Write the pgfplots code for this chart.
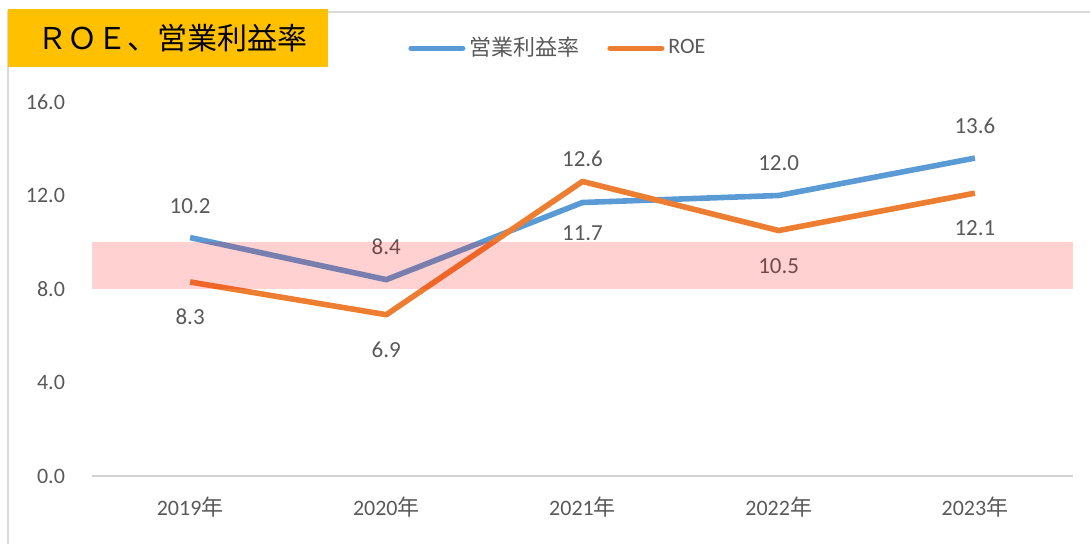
\documentclass[border=0pt]{standalone}
\usepackage{pgfplots}
\pgfplotsset{compat=1.18}
\usepackage{fontspec}
\setmainfont{Carlito}
\newfontfamily\cjk{Noto Sans CJK JP}
\definecolor{tgray}{HTML}{595959}
\definecolor{cblue}{HTML}{5B9BD5}
\definecolor{corange}{HTML}{ED7D31}
\definecolor{cgold}{HTML}{FFC000}
\begin{document}
\begin{tikzpicture}
\path[use as bounding box] (0,0) rectangle (545pt,272pt);
\draw[gray!30, line width=0.8pt] (4pt,-5pt) -- (4pt,266pt) -- (550pt,266pt);
\begin{axis}[
  at={(46pt,34pt)}, anchor=south west,
  scale only axis, width=490.5pt, height=187pt,
  xmin=-0.5, xmax=4.5, ymin=0, ymax=16,
  axis x line=bottom, axis y line=left,
  x axis line style={-, draw=gray!35, line width=0.8pt},
  y axis line style={draw=none},
  xtick={0,1,2,3,4},
  xticklabels={2019{\cjk 年},2020{\cjk 年},2021{\cjk 年},2022{\cjk 年},2023{\cjk 年}},
  ytick={0,4,8,12,16},
  yticklabels={0.0,4.0,8.0,12.0,16.0},
  major tick length=0pt,
  tick label style={font=\fontsize{11}{13}\selectfont, text=tgray},
  xticklabel style={yshift=-7pt},
  yticklabel style={anchor=east, xshift=-10pt},
  legend style={at={(0.316,1.144)}, anchor=west, draw=none, fill=none,
     font=\fontsize{11}{13}\selectfont, text=tgray, legend columns=2,
     /tikz/every even column/.append style={column sep=12pt}},
  legend image code/.code={\draw[#1, line width=2.5pt, line cap=round] (0pt,0pt) -- (26pt,0pt);},
  clip=false,
]
\addplot[cblue, line width=2.8pt, line join=round] coordinates {(0,10.2) (1,8.4) (2,11.7) (3,12.0) (4,13.6)};
\addlegendentry{\cjk 営業利益率}
\addplot[corange, line width=2.8pt, line join=round] coordinates {(0,8.3) (1,6.9) (2,12.6) (3,10.5) (4,12.1)};
\addlegendentry{ROE}
\begin{scope}[every node/.style={font=\fontsize{11.5}{13}\selectfont, text=tgray}]
\node at (axis cs:0,10.2) [yshift=15.5pt] {10.2};
\node at (axis cs:1,8.4) [yshift=16.5pt] {8.4};
\node at (axis cs:2,11.7) [yshift=-15.5pt] {11.7};
\node at (axis cs:3,12.0) [yshift=16pt] {12.0};
\node at (axis cs:4,13.6) [yshift=16pt] {13.6};
\node at (axis cs:0,8.3) [yshift=-17.5pt] {8.3};
\node at (axis cs:1,6.9) [yshift=-17.5pt] {6.9};
\node at (axis cs:2,12.6) [yshift=11.5pt] {12.6};
\node at (axis cs:3,10.5) [yshift=-18pt] {10.5};
\node at (axis cs:4,12.1) [yshift=-17.5pt] {12.1};
\end{scope}
\addplot[fill=red, opacity=0.18, draw=none, forget plot] coordinates {(-0.5,8) (4.5,8) (4.5,10) (-0.5,10)} -- cycle;
\end{axis}
\fill[cgold] (4pt,238.5pt) rectangle (164pt,267.5pt);
\node[anchor=west, font=\cjk\fontsize{15}{17}\selectfont, text=black, inner sep=0pt] at (18.5pt,253pt) {ＲＯＥ、営業利益率};
\end{tikzpicture}
\end{document}
